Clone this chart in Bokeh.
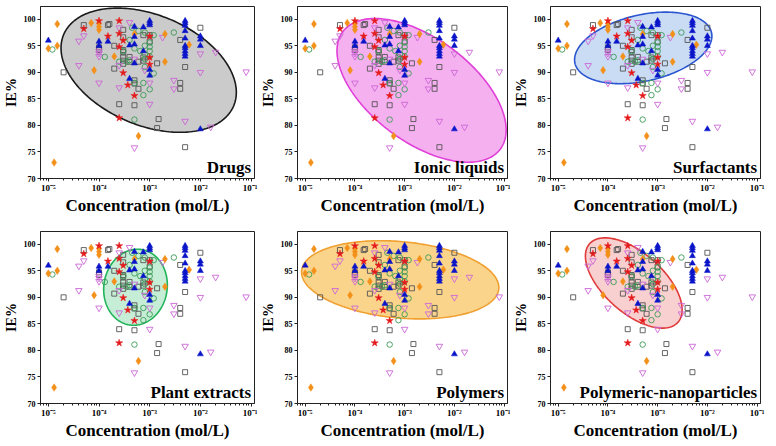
import numpy as np
from bokeh.plotting import figure
from bokeh.layouts import gridplot
from bokeh.models import Range1d, FixedTicker, CustomJSTickFormatter, Label
from bokeh.embed import file_html
from bokeh.resources import INLINE

# ---------------- data ----------------
sq_x = [2e-5, 5e-5, 1e-4, 1e-4, 1.5e-4, 1.6e-4, 2e-4, 2e-4, 2.5e-4, 3e-4, 3e-4, 3e-4, 3e-4,
        3e-4, 3e-4, 3e-4, 4e-4, 4e-4, 5e-4, 5e-4, 5e-4, 6e-4, 6e-4, 7.5e-4, 7.5e-4, 7.5e-4,
        1e-3, 1e-3, 1.4e-3, 1.5e-3, 1.4e-3, 4e-3, 4e-3, 4e-3, 5e-3, 5e-3, 1e-2]
sq_y = [90.0, 98.9, 94.7, 94.2, 98.9, 99.1, 95.0, 90.7, 84.0, 98.0, 96.6, 94.2, 93.8,
        92.8, 92.2, 91.6, 92.9, 92.0, 88.5, 87.9, 83.8, 86.9, 92.0, 92.8, 92.2, 97.0,
        97.0, 95.8, 91.7, 81.2, 79.5, 96.1, 88.0, 86.9, 91.0, 75.9, 98.4]

circ_x = [1.2e-5, 1.3e-4, 2.5e-4, 3e-4, 3.5e-4, 4e-4, 4e-4, 4.5e-4, 5e-4, 5e-4, 5e-4, 6e-4,
          6.5e-4, 7.5e-4, 7.5e-4, 8e-4, 8e-4, 8e-4, 8e-4, 8e-4, 1e-3, 1e-3, 1e-3, 1e-3,
          1e-3, 1.2e-3, 1.2e-3, 3e-3]
circ_y = [94.3, 92.9, 92.0, 94.0, 92.0, 96.1, 92.3, 98.4, 94.5, 88.0, 81.1, 97.8,
          94.0, 85.7, 88.0, 91.0, 92.5, 93.4, 95.0, 97.5, 93.0, 94.0, 94.8, 95.6,
          86.8, 97.0, 89.8, 97.5]

inv_x = [4e-5, 4e-5, 5e-5, 1e-4, 1e-4, 1e-4, 1e-4, 2.5e-4, 2.5e-4, 2.5e-4, 4e-4, 5e-4,
         5e-4, 8e-4, 1e-3, 1e-3, 1.8e-3, 3e-3, 3e-3, 5e-3, 1e-2, 1e-2, 1.6e-2, 2e-2, 8e-2]
inv_y = [91.3, 95.9, 96.9, 94.0, 93.6, 93.0, 88.0, 98.4, 91.3, 87.1, 99.4, 92.5,
         75.8, 90.4, 88.0, 84.0, 96.6, 88.5, 86.9, 80.8, 93.5, 90.0, 79.7, 93.8, 90.1]

dia_x = [1e-5, 1.5e-5, 1.5e-5, 1.3e-5, 7e-5, 1e-4, 1e-4, 1e-4, 8e-5, 2e-4, 5e-4, 6e-4,
         2e-3, 2e-3, 6e-3]
dia_y = [94.5, 99.1, 95.0, 73.0, 99.3, 99.2, 98.6, 98.0, 90.4, 93.0, 97.2, 78.0,
         92.0, 97.2, 95.2]

star_x = [5e-5, 1e-4, 1.5e-4, 2.5e-4, 2.5e-4, 2.5e-4, 3e-4, 3e-4, 3.7e-4, 5e-4, 2.5e-4,
          1e-3, 1e-3, 1e-3]
star_y = [98.2, 99.7, 96.8, 99.7, 97.3, 94.8, 96.0, 89.9, 87.6, 85.6, 81.4,
          96.8, 92.8, 91.5]

tri_x = [1e-5, 1e-4, 1e-4, 1.5e-4, 4e-4, 4e-4, 5e-4, 5e-4, 5e-4, 5e-4, 7.5e-4, 7.5e-4,
         1e-3, 1e-3, 1e-3, 1e-3, 1e-3,
         5e-3, 5e-3, 5e-3, 5e-3, 5e-3, 5e-3, 5e-3, 5e-3, 5e-3, 5e-3,
         1e-2, 1e-2, 1e-2, 1e-2]
tri_y = [96.0, 95.8, 95.0, 95.8, 95.1, 88.8, 98.6, 96.7, 95.3, 91.7, 98.5, 94.0,
         99.7, 99.3, 98.9, 90.5, 89.4,
         99.7, 99.3, 98.8, 97.8, 96.4, 95.0, 94.6, 94.0, 93.5, 93.0,
         96.8, 96.2, 95.0, 79.3]

panel_names = ["Drugs", "Ionic liquids", "Surfactants",
               "Plant extracts", "Polymers", "Polymeric-nanoparticles"]

# ellipse: centre (log10 conc, IE%), semi-axes and tilt in reference pixel units
ell_lcx = [-3.02, -2.66, -3.29, -3.28, -3.09, -3.48]
ell_cy = [90.4, 86.6, 94.6, 91.9, 93.3, 92.7]
ell_a = [93, 100, 72, 38, 102, 60]
ell_b = [55, 52, 33, 32, 38, 30]
ell_ang = [-22, -35, 12, 80, -5, -40]
ell_fill = ["#cbcbcb", "#f5b0ef", "#cadcf3", "#c6eed7", "#fbd48c", "#f8d0d0"]
ell_line = ["#1a1a1a", "#e040d8", "#2a55d0", "#22b35a", "#f0a030", "#e03a3a"]

x_ticks = [1e-5, 1e-4, 1e-3, 1e-2, 1e-1]
y_ticks = [70, 75, 80, 85, 90, 95, 100]
x_label = "Concentration (mol/L)"
y_label = "IE%"

SX, SY = 51.25, 5.28  # reference px per decade / per IE% unit (ellipse shape)

minor = [m * 10.0 ** e for e in range(-6, 0) for m in range(2, 10)]

fmt = CustomJSTickFormatter(code=r"""
const sup = {'-':'\u207b','0':'\u2070','1':'\u00b9','2':'\u00b2','3':'\u00b3','4':'\u2074','5':'\u2075','6':'\u2076','7':'\u2077','8':'\u2078','9':'\u2079'};
const e = Math.round(Math.log10(tick));
return '10' + String(e).split('').map(c => sup[c]).join('');
""")

FONT = "Liberation Serif"

COL_W = [257, 253, 255]
COL_L = [40, 36, 36]
COL_R = [3, 3, 5]
ROW_H = [227, 216]
ROW_T = [6, 4]
ROW_B = [49, 40]


def ellipse_pts(i):
    t = np.linspace(0, 2 * np.pi, 240)
    th = np.radians(ell_ang[i])
    dx = ell_a[i] * np.cos(t) * np.cos(th) - ell_b[i] * np.sin(t) * np.sin(th)
    dy = ell_a[i] * np.cos(t) * np.sin(th) + ell_b[i] * np.sin(t) * np.cos(th)
    return 10 ** (ell_lcx[i] + dx / SX), ell_cy[i] + dy / SY


def make(i):
    row, col = divmod(i, 3)
    p = figure(width=COL_W[col], height=ROW_H[row], x_axis_type="log",
               x_range=Range1d(7e-6, 0.117), y_range=Range1d(70, 102.4),
               output_backend="svg", toolbar_location=None,
               min_border_left=COL_L[col], min_border_right=COL_R[col],
               min_border_top=ROW_T[row], min_border_bottom=ROW_B[row])
    p.xgrid.visible = False
    p.ygrid.visible = False
    p.outline_line_color = "#222222"
    p.outline_line_width = 1
    p.background_fill_color = "white"

    ex, ey = ellipse_pts(i)
    p.patch(ex, ey, fill_color=ell_fill[i], fill_alpha=1.0,
            line_color=ell_line[i], line_width=1.6)

    p.scatter(sq_x, sq_y, marker="square", size=5, fill_color=None,
              line_color="#555555", line_width=0.9)
    p.scatter(circ_x, circ_y, marker="circle", size=5.5, fill_color=None,
              line_color="#3a9a55", line_width=0.9)
    p.scatter(inv_x, inv_y, marker="inverted_triangle", size=6.5, fill_color=None,
              line_color="#cc66d6", line_width=0.9)
    p.scatter(dia_x, dia_y, marker="diamond", size=7.5, fill_color="#f39019",
              line_color="#f39019", line_width=0.5)
    p.scatter(star_x, star_y, marker="star", size=7.5, fill_color="#e41a1c",
              line_color="#e41a1c", line_width=0.5)
    p.scatter(tri_x, tri_y, marker="triangle", size=6, fill_color="#0a14c8",
              line_color="#0a14c8", line_width=0.5)

    p.add_layout(Label(x=0.1, y=70.3, text=panel_names[i], text_align="right",
                       text_baseline="bottom", text_font=FONT,
                       text_font_style="bold", text_font_size="17px",
                       text_color="black"))

    xa = p.xaxis[0]
    xa.ticker = FixedTicker(ticks=x_ticks, minor_ticks=minor)
    xa.formatter = fmt
    ya = p.yaxis[0]
    ya.ticker = FixedTicker(ticks=y_ticks)
    for ax in (xa, ya):
        ax.axis_line_color = "#222222"
        ax.major_tick_line_color = "#222222"
        ax.minor_tick_line_color = "#222222"
        ax.major_tick_out = 3
        ax.major_tick_in = 0
        ax.minor_tick_out = 2
        ax.minor_tick_in = 0
        ax.major_label_standoff = 2
        ax.major_label_text_font = FONT
        ax.major_label_text_font_style = "bold"
        ax.major_label_text_color = "black"
        ax.axis_label_text_font = FONT
        ax.axis_label_text_font_style = "bold"
        ax.axis_label_text_color = "black"
    xa.major_label_standoff = 1
    xa.major_label_text_font_size = "9px"
    ya.major_label_text_font_size = "8px"
    xa.axis_label = x_label
    ya.axis_label = y_label
    xa.axis_label_text_font_size = "17px"
    ya.axis_label_text_font_size = "14px"
    xa.axis_label_standoff = 0
    ya.axis_label_standoff = 2
    return p


figs = [make(i) for i in range(6)]
grid = gridplot([figs[0:3], figs[3:6]], toolbar_location=None)

with open("out.html", "w", encoding="utf-8") as f:
    f.write(file_html(grid, INLINE))
